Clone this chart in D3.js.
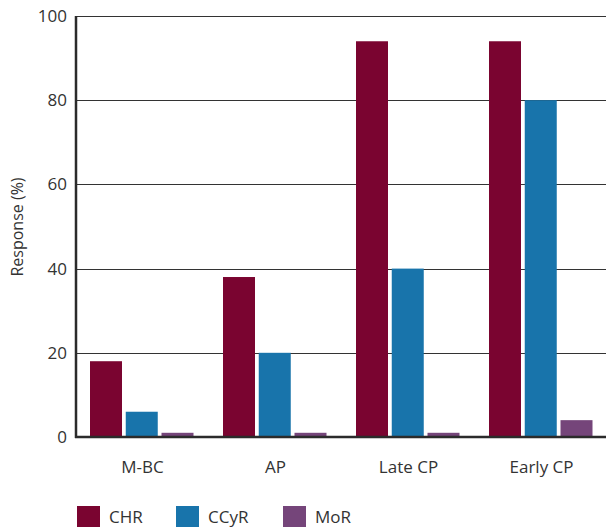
<!DOCTYPE html>
<html><head><meta charset="utf-8">
<script src="https://cdn.jsdelivr.net/npm/d3@7"></script>
<style>body{margin:0;background:#fff}svg{display:block}text{font-family:"Open Sans","Noto Sans",sans-serif;fill:#333}</style>
</head><body><svg id="c" width="606" height="527"></svg>
<script>
const categories = ["M-BC", "AP", "Late CP", "Early CP"];
const seriesNames = ["CHR", "CCyR", "MoR"];
const chr = [18, 38, 94, 94];
const ccyr = [6, 20, 40, 80];
const mor = [1, 1, 1, 4];
const yTicks = [0, 20, 40, 60, 80, 100];
const colors = ["#7a0430", "#1874ab", "#75457a"];
const seriesValues = [chr, ccyr, mor];

(function () {
const svg = d3.select("#c");
const mLeft = 76, mRight = 606, mTop = 16, mBottom = 437;
const x = d3.scaleBand().domain(categories).range([mLeft, mLeft + 532]).paddingInner(0).paddingOuter(0);
const y = d3.scaleLinear().domain([0, 100]).range([mBottom, mTop]);
const xs = d3.scaleBand().domain(seriesNames).range([14, 117.5]).paddingInner(0.105);

// gridlines
svg.append("g").selectAll("line").data(yTicks.filter(d => d > 0)).join("line")
  .attr("x1", mLeft).attr("x2", mRight).attr("y1", d => Math.round(y(d)) + 0.5).attr("y2", d => Math.round(y(d)) + 0.5)
  .attr("stroke", "#333").attr("stroke-width", 1.2);

// bars
const g = svg.append("g");
categories.forEach((c, i) => {
  seriesNames.forEach((s, j) => {
    const v = seriesValues[j][i];
    g.append("rect").attr("x", x(c) + xs(s)).attr("width", xs.bandwidth())
      .attr("y", y(v)).attr("height", mBottom - y(v)).attr("fill", colors[j]);
  });
});

// axes lines
svg.append("line").attr("x1", mLeft).attr("x2", mLeft).attr("y1", mTop).attr("y2", mBottom + 1).attr("stroke", "#2b2b2b").attr("stroke-width", 2.5);
svg.append("line").attr("x1", mLeft - 1).attr("x2", mRight).attr("y1", mBottom).attr("y2", mBottom).attr("stroke", "#2b2b2b").attr("stroke-width", 2.5);

// y tick labels
const yAxis = d3.axisLeft(y).tickValues(yTicks).tickSize(0).tickPadding(9);
const ya = svg.append("g").attr("transform", `translate(${mLeft},0)`).call(yAxis);
ya.select(".domain").remove();
ya.selectAll("text").attr("font-size", 17).attr("fill", "#333").attr("font-family", '"Open Sans","Noto Sans",sans-serif');

// x labels
const xAxis = d3.axisBottom(x).tickSize(0).tickPadding(24);
const xa = svg.append("g").attr("transform", `translate(0,${mBottom})`).call(xAxis);
xa.select(".domain").remove();
xa.selectAll("text").attr("font-size", 17).attr("fill", "#333").attr("font-family", '"Open Sans","Noto Sans",sans-serif');

// y title
svg.append("text").attr("transform", "translate(23,227) rotate(-90)").attr("text-anchor", "middle")
  .attr("font-size", 16).text("Response (%)");

// legend
const legX = [77, 176, 283];
seriesNames.forEach((s, j) => {
  svg.append("rect").attr("x", legX[j]).attr("y", 506).attr("width", 23).attr("height", 21).attr("fill", colors[j]);
  svg.append("text").attr("x", legX[j] + 32).attr("y", 523).attr("font-size", 17).text(s);
});
})();
</script></body></html>
